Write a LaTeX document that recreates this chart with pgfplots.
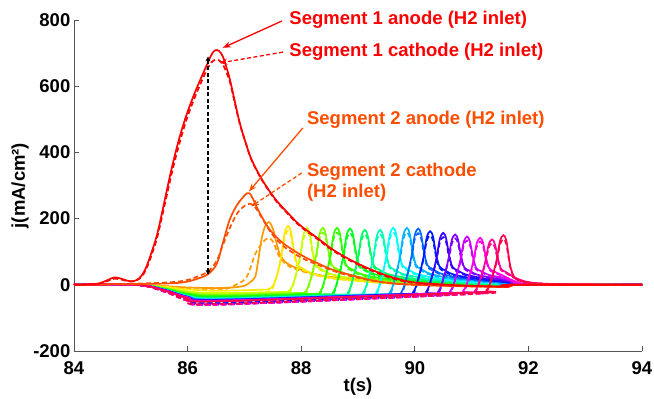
\documentclass[border=0pt]{standalone}
\usepackage{fontspec}
\setmainfont{Liberation Sans}
\usepackage{pgfplots}
\pgfplotsset{compat=1.18}
\usetikzlibrary{arrows.meta}
\definecolor{s1}{HTML}{FF0000}
\definecolor{s2}{HTML}{FF4D00}
\definecolor{s3}{HTML}{FF9900}
\definecolor{s4}{HTML}{FFE600}
\definecolor{s5}{HTML}{CCFF00}
\definecolor{s6}{HTML}{80FF00}
\definecolor{s7}{HTML}{33FF00}
\definecolor{s8}{HTML}{00FF1A}
\definecolor{s9}{HTML}{00FF66}
\definecolor{s10}{HTML}{00FFB3}
\definecolor{s11}{HTML}{00FFFF}
\definecolor{s12}{HTML}{00B3FF}
\definecolor{s13}{HTML}{0066FF}
\definecolor{s14}{HTML}{001AFF}
\definecolor{s15}{HTML}{3300FF}
\definecolor{s16}{HTML}{8000FF}
\definecolor{s17}{HTML}{CC00FF}
\definecolor{s18}{HTML}{FF00E6}
\definecolor{s19}{HTML}{FF0099}
\definecolor{s20}{HTML}{FF004D}
\definecolor{axgray}{HTML}{555555}
\pgfplotsset{
  seg/.style={line width=1.7pt, smooth, tension=0.55},
  segd/.style={line width=1.7pt, smooth, tension=0.55, dash pattern=on 5pt off 3pt},
}
\begin{document}
\begin{tikzpicture}[font=\fontsize{18.5}{22}\selectfont\bfseries]
\path[use as bounding box] (-74pt,-48pt) rectangle (580pt,351pt);
\begin{axis}[
  scale only axis, width=568pt, height=331pt,
  xmin=84, xmax=94, ymin=-200, ymax=800,
  xtick={84,86,...,94}, ytick={-200,0,...,800},
  axis lines*=left, axis line style={axgray, line width=0.9pt},
  tick align=inside, major tick length=5pt,
  tick style={axgray, line width=0.9pt},
  /pgf/number format/assume math mode=true,
  xticklabel style={inner sep=0pt, anchor=center, yshift=-17.5pt},
  yticklabel style={inner sep=0pt, anchor=east, xshift=-3.5pt},
  xlabel={t(s)}, ylabel={j(mA/cm²)},
  xlabel style={at={(axis description cs:0.5,-0.109)}, anchor=center},
  ylabel style={at={(axis description cs:-0.095,0.5)}, anchor=center},
  clip=false,
]
% ---- segments 3..20 (anode solid, cathode dashed)
\addplot[seg, s3] coordinates {(84,0) (85.1,0) (85.6,-4) (86.0,-8) (86.5,-10) (86.8,-8) (87.0,-3) (87.1,8) (87.19,24) (87.24,70) (87.3,136) (87.36,175) (87.43,190) (87.5,170) (87.56,130) (87.63,90) (87.75,65) (88.0,45) (88.3,30) (88.8,18) (89.5,8) (90.5,0) (91.6,-5) (91.7,0) (94,0)};
\addplot[segd, s3] coordinates {(84,0) (85.1,0) (85.6,-5) (86.0,-12) (86.4,-16) (86.62,-15) (86.85,0) (87.04,24) (87.2,96) (87.36,135) (87.45,140) (87.52,125) (87.6,90) (87.75,60) (88.0,42) (88.3,28) (88.8,16) (89.5,6) (90.5,-2) (91.6,-7) (91.7,0) (94,0)};
\addplot[seg, s4] coordinates {(84,0) (85.1,0) (85.6,-6) (86,-14) (86.5,-18) (87.27,-15) (87.47,-10) (87.57,27) (87.65,89) (87.71,157) (87.77,178) (87.82,160) (87.87,107) (87.93,62) (88.02,50) (88.17,36) (88.47,23) (88.87,14) (89.37,7) (90.0,2) (91.0,-2) (91.6,-4) (91.7,0) (94,0)};
\addplot[segd, s4] coordinates {(84,0) (85.1,0) (85.6,-9) (86,-22) (86.5,-28) (87.27,-23) (87.47,-16) (87.57,25) (87.65,82) (87.71,144) (87.77,164) (87.82,147) (87.87,98) (87.93,57) (88.02,46) (88.17,33) (88.47,21) (88.87,13) (89.37,6) (90.0,0) (91.0,-4) (91.6,-7) (91.7,0) (94,0)};
\addplot[seg, s5] coordinates {(84,0) (85.1,0) (85.6,-9) (86,-20) (86.5,-25) (87.6,-22) (87.8,-16) (87.9,26) (87.98,86) (88.04,151) (88.1,172) (88.15,155) (88.2,103) (88.26,60) (88.35,48) (88.5,34) (88.8,22) (89.2,14) (89.7,7) (90.5,2) (91.6,0) (91.7,0) (94,0)};
\addplot[segd, s5] coordinates {(84,0) (85.1,0) (85.6,-13) (86,-28) (86.5,-35) (87.6,-31) (87.8,-22) (87.9,24) (87.98,79) (88.04,139) (88.1,158) (88.15,143) (88.2,95) (88.26,55) (88.35,44) (88.5,31) (88.8,20) (89.2,13) (89.7,6) (90.5,0) (91.6,-3) (91.7,0) (94,0)};
\addplot[seg, s6] coordinates {(84,0) (85.1,0) (85.6,-10) (86,-24) (86.5,-30) (87.88,-25) (88.08,-19) (88.18,26) (88.26,86) (88.32,151) (88.38,172) (88.43,155) (88.48,103) (88.54,60) (88.63,48) (88.78,34) (89.08,22) (89.48,14) (89.98,7) (90.8,2) (91.6,0) (94,0)};
\addplot[segd, s6] coordinates {(84,0) (85.1,0) (85.6,-13) (86,-32) (86.5,-40) (87.88,-33) (88.08,-25) (88.18,24) (88.26,79) (88.32,139) (88.38,158) (88.43,143) (88.48,95) (88.54,55) (88.63,44) (88.78,31) (89.08,20) (89.48,13) (89.98,6) (90.8,0) (91.6,-2) (91.7,0) (94,0)};
\addplot[seg, s7] coordinates {(84,0) (85.1,0) (85.6,-12) (86,-27) (86.5,-34) (88.13,-27) (88.33,-22) (88.43,26) (88.51,86) (88.57,151) (88.63,172) (88.68,155) (88.73,103) (88.79,60) (88.88,48) (89.03,34) (89.33,22) (89.73,14) (90.23,7) (91.0,2) (91.6,0) (94,0)};
\addplot[segd, s7] coordinates {(84,0) (85.1,0) (85.6,-15) (86,-35) (86.5,-44) (88.13,-35) (88.33,-28) (88.43,24) (88.51,79) (88.57,139) (88.63,158) (88.68,143) (88.73,95) (88.79,55) (88.88,44) (89.03,31) (89.33,20) (89.73,13) (90.23,6) (91.0,0) (91.6,-2) (91.7,0) (94,0)};
\addplot[seg, s8] coordinates {(84,0) (85.1,0) (85.6,-13) (86,-30) (86.5,-37) (88.36,-29) (88.56,-23) (88.66,26) (88.74,85) (88.8,150) (88.86,170) (88.91,153) (88.96,102) (89.02,60) (89.11,48) (89.26,34) (89.56,22) (89.96,14) (90.46,7) (91.2,2) (91.6,0) (94,0)};
\addplot[segd, s8] coordinates {(84,0) (85.1,0) (85.6,-17) (86,-38) (86.5,-47) (88.36,-37) (88.56,-29) (88.66,24) (88.74,78) (88.8,138) (88.86,156) (88.91,141) (88.96,94) (89.02,55) (89.11,44) (89.26,31) (89.56,20) (89.96,13) (90.46,6) (91.2,0) (91.6,-1) (91.7,0) (94,0)};
\addplot[seg, s9] coordinates {(84,0) (85.1,0) (85.6,-14) (86,-32) (86.5,-40) (88.62,-30) (88.82,-24) (88.92,25) (89.0,83) (89.06,146) (89.12,166) (89.17,149) (89.22,100) (89.28,58) (89.37,46) (89.52,33) (89.82,22) (90.22,13) (90.72,7) (91.6,1) (91.7,0) (94,0)};
\addplot[segd, s9] coordinates {(84,0) (85.1,0) (85.6,-18) (86,-40) (86.5,-50) (88.62,-38) (88.82,-30) (88.92,23) (89.0,76) (89.06,134) (89.12,153) (89.17,137) (89.22,92) (89.28,53) (89.37,42) (89.52,30) (89.82,20) (90.22,12) (90.72,6) (91.6,0) (94,0)};
\addplot[seg, s10] coordinates {(84,0) (85.1,0) (85.6,-15) (86,-34) (86.5,-42) (88.89,-30) (89.09,-24) (89.19,25) (89.27,83) (89.33,146) (89.39,166) (89.44,149) (89.49,100) (89.55,58) (89.64,46) (89.79,33) (90.09,22) (90.49,13) (90.99,7) (91.6,3) (91.7,0) (94,0)};
\addplot[segd, s10] coordinates {(84,0) (85.1,0) (85.6,-19) (86,-42) (86.5,-52) (88.89,-37) (89.09,-30) (89.19,23) (89.27,76) (89.33,134) (89.39,153) (89.44,137) (89.49,92) (89.55,53) (89.64,42) (89.79,30) (90.09,20) (90.49,12) (90.99,6) (91.6,2) (91.7,0) (94,0)};
\addplot[seg, s11] coordinates {(84,0) (85.1,0) (85.6,-15) (86,-34) (86.5,-43) (89.12,-30) (89.32,-24) (89.42,26) (89.5,86) (89.56,151) (89.62,172) (89.67,155) (89.72,103) (89.78,60) (89.87,48) (90.02,34) (90.32,22) (90.72,14) (91.22,7) (91.6,4) (91.7,0) (94,0)};
\addplot[segd, s11] coordinates {(84,0) (85.1,0) (85.6,-19) (86,-42) (86.5,-53) (89.12,-37) (89.32,-30) (89.42,24) (89.5,79) (89.56,139) (89.62,158) (89.67,143) (89.72,95) (89.78,55) (89.87,44) (90.02,31) (90.32,20) (90.72,13) (91.22,6) (91.6,3) (91.7,0) (94,0)};
\addplot[seg, s12] coordinates {(84,0) (85.1,0) (85.6,-15) (86,-35) (86.5,-44) (89.36,-29) (89.56,-23) (89.66,26) (89.74,86) (89.8,151) (89.86,172) (89.91,155) (89.96,103) (90.02,60) (90.11,48) (90.26,34) (90.56,22) (90.96,14) (91.46,7) (91.6,5) (91.7,0) (94,0)};
\addplot[segd, s12] coordinates {(84,0) (85.1,0) (85.6,-19) (86,-43) (86.5,-54) (89.36,-36) (89.56,-29) (89.66,24) (89.74,79) (89.8,139) (89.86,158) (89.91,143) (89.96,95) (90.02,55) (90.11,44) (90.26,31) (90.56,20) (90.96,13) (91.46,6) (91.6,4) (91.7,0) (94,0)};
\addplot[seg, s13] coordinates {(84,0) (85.1,0) (85.6,-16) (86,-36) (86.5,-45) (89.56,-29) (89.76,-23) (89.86,26) (89.94,85) (90.0,150) (90.06,170) (90.11,153) (90.16,102) (90.22,60) (90.31,48) (90.46,34) (90.76,22) (91.16,14) (91.6,7) (91.75,3) (92,0) (94,0)};
\addplot[segd, s13] coordinates {(84,0) (85.1,0) (85.6,-19) (86,-44) (86.5,-55) (89.56,-35) (89.76,-28) (89.86,24) (89.94,78) (90.0,138) (90.06,156) (90.11,141) (90.16,94) (90.22,55) (90.31,44) (90.46,31) (90.76,20) (91.16,13) (91.6,6) (91.75,2) (92,0) (94,0)};
\addplot[seg, s14] coordinates {(84,0) (85.1,0) (85.6,-16) (86,-37) (86.5,-46) (89.77,-28) (89.97,-22) (90.07,24) (90.15,81) (90.21,143) (90.27,162) (90.32,146) (90.37,97) (90.43,57) (90.52,45) (90.67,32) (90.97,21) (91.37,13) (91.6,9) (91.75,4) (92,0) (94,0)};
\addplot[segd, s14] coordinates {(84,0) (85.1,0) (85.6,-20) (86,-45) (86.5,-56) (89.77,-34) (89.97,-27) (90.07,22) (90.15,75) (90.21,132) (90.27,149) (90.32,134) (90.37,89) (90.43,52) (90.52,41) (90.67,29) (90.97,19) (91.37,12) (91.6,8) (91.75,3) (92,0) (94,0)};
\addplot[seg, s15] coordinates {(84,0) (85.1,0) (85.6,-16) (86,-38) (86.5,-47) (90.0,-28) (90.2,-21) (90.3,24) (90.38,79) (90.44,138) (90.5,157) (90.55,141) (90.6,94) (90.66,55) (90.75,44) (90.9,31) (91.2,20) (91.6,12) (91.75,5) (92,0) (94,0)};
\addplot[segd, s15] coordinates {(84,0) (85.1,0) (85.6,-20) (86,-46) (86.5,-58) (90.0,-34) (90.2,-26) (90.3,22) (90.38,73) (90.44,127) (90.5,144) (90.55,130) (90.6,86) (90.66,51) (90.75,40) (90.9,29) (91.2,18) (91.6,11) (91.75,4) (92,0) (94,0)};
\addplot[seg, s16] coordinates {(84,0) (85.1,0) (85.6,-17) (86,-38) (86.5,-48) (90.21,-27) (90.41,-21) (90.51,23) (90.59,76) (90.65,134) (90.71,152) (90.76,137) (90.81,91) (90.87,53) (90.96,43) (91.11,30) (91.41,20) (91.6,15) (91.75,6) (92,0) (94,0)};
\addplot[segd, s16] coordinates {(84,0) (85.1,0) (85.6,-21) (86,-48) (86.5,-60) (90.21,-34) (90.41,-27) (90.51,21) (90.59,70) (90.65,123) (90.71,140) (90.76,126) (90.81,84) (90.87,49) (90.96,40) (91.11,28) (91.41,18) (91.6,14) (91.75,5) (92,0) (94,0)};
\addplot[seg, s17] coordinates {(84,0) (85.1,0) (85.6,-17) (86,-38) (86.5,-48) (90.42,-26) (90.62,-20) (90.72,22) (90.8,73) (90.86,128) (90.92,146) (90.97,131) (91.02,88) (91.08,51) (91.17,41) (91.32,29) (91.6,20) (91.75,8) (92,1) (94,0)};
\addplot[segd, s17] coordinates {(84,0) (85.1,0) (85.6,-21) (86,-48) (86.5,-60) (90.42,-32) (90.62,-25) (90.72,20) (90.8,67) (90.86,118) (90.92,134) (90.97,121) (91.02,81) (91.08,47) (91.17,38) (91.32,27) (91.6,18) (91.75,7) (92,1) (94,0)};
\addplot[seg, s18] coordinates {(84,0) (85.1,0) (85.6,-17) (86,-39) (86.5,-49) (90.65,-25) (90.85,-19) (90.95,21) (91.03,71) (91.09,125) (91.15,142) (91.2,128) (91.25,85) (91.31,50) (91.4,40) (91.55,28) (91.7,15) (91.85,6) (92.1,1) (94,0)};
\addplot[segd, s18] coordinates {(84,0) (85.1,0) (85.6,-21) (86,-48) (86.5,-60) (90.65,-31) (90.85,-24) (90.95,19) (91.03,65) (91.09,115) (91.15,131) (91.2,118) (91.25,78) (91.31,46) (91.4,37) (91.55,26) (91.7,14) (91.85,6) (92.1,1) (94,0)};
\addplot[seg, s19] coordinates {(84,0) (85.1,0) (85.6,-18) (86,-40) (86.5,-50) (90.86,-24) (91.06,-18) (91.16,21) (91.24,69) (91.3,121) (91.36,137) (91.41,123) (91.46,82) (91.52,48) (91.61,38) (91.76,22) (92.0,8) (92.4,2) (94,0)};
\addplot[segd, s19] coordinates {(84,0) (85.1,0) (85.6,-21) (86,-48) (86.5,-60) (90.86,-29) (91.06,-22) (91.16,19) (91.24,63) (91.3,111) (91.36,126) (91.41,113) (91.46,75) (91.52,44) (91.61,35) (91.76,20) (92.0,7) (92.4,2) (94,0)};
\addplot[seg, s20] coordinates {(84,0) (85.1,0) (85.6,-18) (86,-40) (86.5,-50) (91.06,-23) (91.26,-17) (91.36,23) (91.44,75) (91.5,132) (91.56,150) (91.61,135) (91.65,90) (91.69,50) (91.76,22) (91.9,10) (92.2,4) (92.8,1) (94,0)};
\addplot[segd, s20] coordinates {(84,0) (85.1,0) (85.6,-20) (86,-46) (86.5,-58) (91.06,-27) (91.26,-20) (91.36,21) (91.44,69) (91.5,121) (91.56,138) (91.61,124) (91.65,83) (91.69,46) (91.76,20) (91.9,9) (92.2,4) (92.8,1) (94,0)};
% ---- segment 2
\addplot[segd, s2] coordinates {(84,0) (85.0,3) (85.85,10) (86.22,28) (86.39,45) (86.52,75) (86.62,120) (86.74,170) (86.87,215) (87.0,238) (87.1,245) (87.2,232) (87.35,190) (87.5,150) (87.7,115) (88.0,82) (88.3,60) (88.6,40) (88.9,25) (89.2,14) (89.5,6) (90.0,0) (91.6,-6) (91.7,0) (94,0)};
\addplot[seg, s2] coordinates {(84,0) (85.0,2) (85.85,6) (86.22,21) (86.39,36) (86.52,66) (86.62,126) (86.74,196) (86.87,241) (87.01,271) (87.06,277) (87.12,270) (87.27,217) (87.45,166) (87.68,126) (88.0,90) (88.28,66) (88.56,45) (88.86,30) (89.15,17) (89.44,8) (89.8,2) (90.5,-3) (91.6,-6) (91.7,0) (94,0)};
% ---- segment 1
\addplot[segd, s1] coordinates {(84,0) (84.4,2) (84.6,12) (84.7,18) (84.8,17) (85.0,10) (85.15,18) (85.25,40) (85.35,82) (85.46,140) (85.55,206) (85.64,275) (85.72,336) (85.81,398) (85.9,454) (85.99,504) (86.08,546) (86.16,580) (86.25,616) (86.34,650) (86.42,672) (86.5,680) (86.6,672) (86.7,635) (86.75,610) (86.83,550) (86.92,485) (87.03,425) (87.13,375) (87.31,316) (87.54,257) (87.76,215) (87.98,177) (88.28,139) (88.56,103) (88.86,73) (89.15,49) (89.44,29) (89.74,13) (90.0,5) (90.5,-1) (91.6,-6) (91.7,0) (94,0)};
\addplot[seg, s1] coordinates {(84,0) (84.4,3) (84.6,15) (84.7,22) (84.8,20) (84.95,12) (85.05,11) (85.15,20) (85.25,45) (85.35,90) (85.46,150) (85.55,218) (85.64,290) (85.72,352) (85.81,415) (85.9,470) (85.99,518) (86.08,560) (86.16,594) (86.25,630) (86.34,665) (86.42,695) (86.48,708) (86.55,707) (86.62,690) (86.7,648) (86.75,617) (86.83,555) (86.92,488) (87.03,425) (87.13,377) (87.31,318) (87.54,260) (87.76,218) (87.98,180) (88.28,142) (88.56,106) (88.86,76) (89.15,52) (89.44,32) (89.74,16) (90.0,7) (90.5,1) (91.0,-3) (91.6,-5) (91.7,0) (94,0)};
% ---- annotations
\draw[black, line width=1.4pt, dash pattern=on 4pt off 2.5pt, {Stealth[length=5pt,width=5pt]}-{Stealth[length=5pt,width=5pt]}] (axis cs:86.36,30) -- (axis cs:86.36,690);
\draw[s1, line width=1.3pt, -{Stealth[length=8pt,width=6pt]}] (axis cs:87.66,797) -- (axis cs:86.62,716);
\draw[s1, line width=1.3pt, dash pattern=on 4pt off 2.5pt, -{Stealth[length=8pt,width=6pt]}] (axis cs:87.68,703) -- (axis cs:86.56,670);
\draw[s2, line width=1.3pt, -{Stealth[length=8pt,width=6pt]}] (axis cs:88.03,474) -- (axis cs:87.08,282);
\draw[s2, line width=1.3pt, dash pattern=on 4pt off 2.5pt, -{Stealth[length=8pt,width=6pt]}] (axis cs:88.01,338) -- (axis cs:87.12,237);
\node[s1, anchor=west, inner sep=0pt] at (axis cs:87.79,802) {Segment 1 anode (H2 inlet)};
\node[s1, anchor=west, inner sep=0pt] at (axis cs:87.79,703) {Segment 1 cathode (H2 inlet)};
\node[s2, anchor=west, inner sep=0pt] at (axis cs:88.10,498) {Segment 2 anode (H2 inlet)};
\node[s2, anchor=west, inner sep=0pt] at (axis cs:88.10,341) {Segment 2 cathode};
\node[s2, anchor=west, inner sep=0pt] at (axis cs:88.10,278) {(H2 inlet)};
\end{axis}
\end{tikzpicture}
\end{document}
